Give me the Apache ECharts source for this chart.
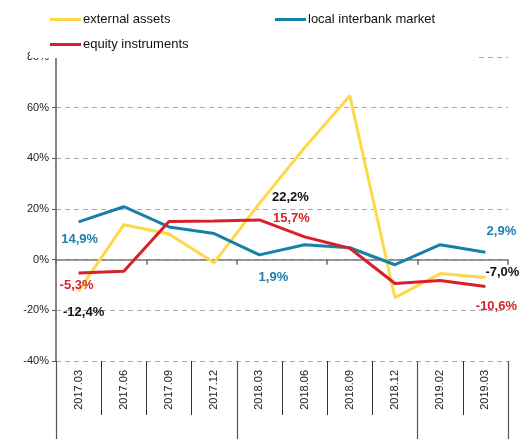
<!DOCTYPE html>
<html><head><meta charset="utf-8">
<script src="https://cdn.jsdelivr.net/npm/echarts@6/dist/echarts.min.js"></script>
<style>html,body{margin:0;padding:0;background:#fff}#c{width:519px;height:439px}</style>
</head><body><div id="c"></div>
<script>
const categories = ['2017.03','2017.06','2017.09','2017.12','2018.03','2018.06','2018.09','2018.12','2019.02','2019.03'];
const externalAssets = [-12.4, 13.8, 10.1, -1.2, 22.2, 44.2, 64.7, -15.0, -5.5, -7.0];
const localInterbank = [14.9, 20.9, 12.9, 10.3, 1.9, 5.9, 4.7, -2.0, 5.9, 2.9];
const equityInstruments = [-5.3, -4.6, 15.1, 15.3, 15.7, 9.0, 4.5, -9.4, -8.2, -10.6];
const yTicks = [-40, -20, 0, 20, 40, 60, 80];

const FONT = 'Liberation Sans';
const fmt = v => v.toFixed(1).replace('.', ',') + '%';

// label styling (positions of the value labels relative to their points)
const labelStyle = {
  ext: {color: '#111111', offsets: {0: [5, 21], 4: [31, -6], 9: [17, -5]}},
  loc: {color: '#1B82AE', offsets: {0: [1, 18], 4: [14, 23], 9: [16, -21]}},
  eq:  {color: '#D9222C', offsets: {0: [-2, 12], 4: [32, -1], 9: [11, 20]}}
};
function buildData(values, key) {
  const st = labelStyle[key];
  return values.map((v, i) => {
    const off = st.offsets[i];
    if (!off) return v;
    return {value: v, label: {show: true, position: 'inside', offset: off, color: st.color,
      fontFamily: FONT, fontSize: 13, fontWeight: 'bold', formatter: p => fmt(p.value)}};
  });
}

const chart = echarts.init(document.getElementById('c'), null, {renderer: 'canvas'});
const grid = {left: 56, right: 11, top: 57, bottom: 78};
function lineSeries(name, values, key, color, z) {
  return {name: name, type: 'line', data: buildData(values, key),
    symbol: 'circle', symbolSize: 0.1, showSymbol: true, showAllSymbol: true,
    lineStyle: {width: 3, color: color}, itemStyle: {color: color}, z: z,
    emphasis: {disabled: true}};
}
chart.setOption({
  animation: false,
  backgroundColor: '#fff',
  grid: grid,
  graphic: [{type: 'rect', z: 3, shape: {x: 30, y: 0, width: 448, height: 58}, style: {fill: '#fff'}}],
  legend: [
    {data: ['external assets', 'equity instruments'], orient: 'vertical', left: 50, top: 13, padding: 0,
     icon: 'rect', itemWidth: 31, itemHeight: 3, itemGap: 12, z: 5,
     textStyle: {fontFamily: FONT, fontSize: 13, color: '#111', padding: [0, 0, 0, -3]}},
    {data: ['local interbank market'], left: 275, top: 13, padding: 0,
     icon: 'rect', itemWidth: 31, itemHeight: 3, z: 5,
     textStyle: {fontFamily: FONT, fontSize: 13, color: '#111', padding: [0, 0, 0, -3]}}
  ],
  xAxis: [
    {type: 'category', data: categories, position: 'bottom',
     axisLine: {onZero: true, lineStyle: {color: '#7a7a7a', width: 1.5}},
     axisTick: {show: true, length: 5, lineStyle: {color: '#6a6a6a', width: 1.5}},
     axisLabel: {show: false}, splitLine: {show: false}},
    {type: 'category', data: categories, position: 'bottom',
     axisLine: {show: false, onZero: false},
     axisTick: {show: true, length: 54, lineStyle: {color: '#333', width: 1}},
     axisLabel: {show: true, rotate: 90, margin: 9, fontFamily: FONT, fontSize: 11, color: '#222'},
     splitLine: {show: false}},
    {type: 'category', data: categories, position: 'bottom',
     axisLine: {show: false, onZero: false},
     axisTick: {show: true, length: 78, interval: (i) => i % 4 === 0, lineStyle: {color: '#555', width: 1.2}},
     axisLabel: {show: false}, splitLine: {show: false}}
  ],
  yAxis: {type: 'value', min: yTicks[0], max: yTicks[yTicks.length - 1], interval: 20,
    axisLine: {show: true, lineStyle: {color: '#5a5a5a', width: 1.5}},
    axisTick: {show: true, length: 4, lineStyle: {color: '#5a5a5a'}},
    axisLabel: {formatter: '{value}%', fontFamily: FONT, fontSize: 11, color: '#222', margin: 7},
    splitLine: {show: true, lineStyle: {type: [5, 4], color: '#a8a8a8', width: 1}}},
  series: [
    lineSeries('external assets', externalAssets, 'ext', '#FFD84A', 2),
    lineSeries('local interbank market', localInterbank, 'loc', '#1580A8', 3),
    lineSeries('equity instruments', equityInstruments, 'eq', '#D7202A', 4)
  ]
});
</script></body></html>
